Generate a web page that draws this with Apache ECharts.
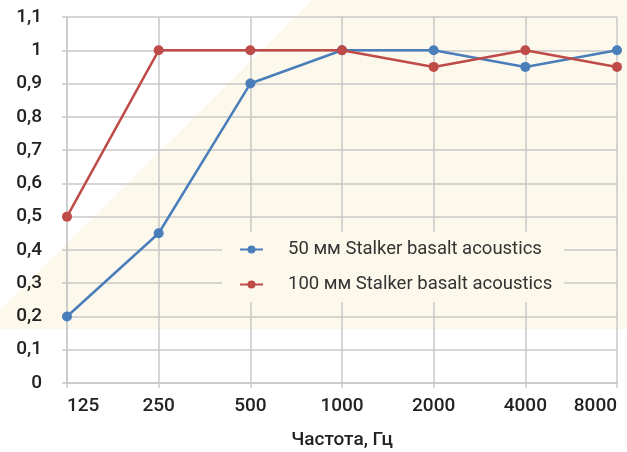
<!DOCTYPE html>
<html>
<head>
<meta charset="utf-8">
<script src="https://cdn.jsdelivr.net/npm/echarts@6/dist/echarts.min.js"></script>
<style>html,body{margin:0;padding:0;background:#fff;}#c{width:627px;height:452px;}</style>
</head>
<body>
<div id="c"></div>
<script>
const categories = ['125', '250', '500', '1000', '2000', '4000', '8000'];
const series50 = [0.2, 0.45, 0.9, 1, 1, 0.95, 1];
const series100 = [0.5, 1, 1, 1, 0.95, 1, 0.95];
const seriesNames = ['50 мм Stalker basalt acoustics', '100 мм Stalker basalt acoustics'];
const xAxisName = 'Частота, Гц';

const gridColor = '#c8c8c8';
const beige = '#fdf8ec';
const chart = echarts.init(document.getElementById('c'));
chart.setOption({
  animation: false,
  textStyle: { fontFamily: 'Roboto' },
  graphic: [{
    type: 'polygon', z: -100, silent: true,
    shape: { points: [[312, 0], [627, 0], [627, 329], [0, 329], [0, 310]] },
    style: { fill: beige }
  }],
  grid: { left: 67, right: 10, top: 17, bottom: 69, containLabel: false, outerBoundsMode: 'none' },
  legend: {
    orient: 'vertical', left: 222, top: 232,
    backgroundColor: beige,
    padding: [8, 12, 8, 17],
    itemWidth: 23, itemHeight: 10, itemGap: 16,
    textStyle: { fontSize: 18.5, color: '#333', padding: [0, 0, 0, 20], fontFamily: 'Roboto' },
    data: seriesNames
  },
  xAxis: {
    type: 'category', data: categories, boundaryGap: false,
    name: xAxisName, nameLocation: 'middle', nameGap: 48,
    nameTextStyle: { fontSize: 19, fontWeight: 500, color: '#222', fontFamily: 'Roboto' },
    axisLine: { show: true, lineStyle: { color: gridColor, width: 1.5 } },
    axisTick: { show: true, length: 5, lineStyle: { color: gridColor, width: 1.5 } },
    axisLabel: { fontSize: 19, fontWeight: 500, color: '#222', margin: 14, alignMinLabel: 'left', alignMaxLabel: 'right' },
    splitLine: { show: true, lineStyle: { color: gridColor, width: 1.5 } }
  },
  yAxis: {
    type: 'value', min: 0, max: 1.1, interval: 0.1,
    axisLine: { show: true, lineStyle: { color: gridColor, width: 1.5 } },
    axisTick: { show: true, length: 5, lineStyle: { color: gridColor, width: 1.5 } },
    axisLabel: { fontSize: 19, fontWeight: 500, color: '#222', margin: 25,
      formatter: v => String(Math.round(v * 10) / 10).replace('.', ',') },
    splitLine: { show: true, lineStyle: { color: gridColor, width: 1.5 } }
  },
  series: [
    { name: seriesNames[0], type: 'line', data: series50, symbol: 'circle', symbolSize: 10,
      lineStyle: { width: 2.5, color: '#4a7ebb' }, itemStyle: { color: '#4a7ebb' } },
    { name: seriesNames[1], type: 'line', data: series100, symbol: 'circle', symbolSize: 10,
      lineStyle: { width: 2.5, color: '#be4b48' }, itemStyle: { color: '#be4b48' } }
  ]
});
</script>
</body>
</html>
